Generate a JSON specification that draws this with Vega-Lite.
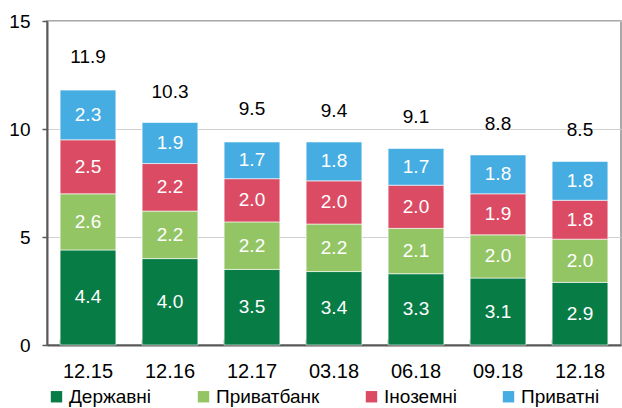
{
  "$schema": "https://vega.github.io/schema/vega-lite/v6.json",
  "width": 574,
  "height": 324,
  "autosize": "none",
  "padding": {"left": 47, "top": 21, "right": 1, "bottom": 63},
  "background": "white",
  "config": {
    "font": "Liberation Sans",
    "view": {"stroke": "#8c8c8c", "strokeWidth": 1.5}
  },
  "datasets": {
    "bars": [
      {"period": "12.15", "series": "Державні", "k": 1, "value": 4.4},
      {"period": "12.15", "series": "Приватбанк", "k": 2, "value": 2.6},
      {"period": "12.15", "series": "Іноземні", "k": 3, "value": 2.5},
      {"period": "12.15", "series": "Приватні", "k": 4, "value": 2.3},
      {"period": "12.16", "series": "Державні", "k": 1, "value": 4.0},
      {"period": "12.16", "series": "Приватбанк", "k": 2, "value": 2.2},
      {"period": "12.16", "series": "Іноземні", "k": 3, "value": 2.2},
      {"period": "12.16", "series": "Приватні", "k": 4, "value": 1.9},
      {"period": "12.17", "series": "Державні", "k": 1, "value": 3.5},
      {"period": "12.17", "series": "Приватбанк", "k": 2, "value": 2.2},
      {"period": "12.17", "series": "Іноземні", "k": 3, "value": 2.0},
      {"period": "12.17", "series": "Приватні", "k": 4, "value": 1.7},
      {"period": "03.18", "series": "Державні", "k": 1, "value": 3.4},
      {"period": "03.18", "series": "Приватбанк", "k": 2, "value": 2.2},
      {"period": "03.18", "series": "Іноземні", "k": 3, "value": 2.0},
      {"period": "03.18", "series": "Приватні", "k": 4, "value": 1.8},
      {"period": "06.18", "series": "Державні", "k": 1, "value": 3.3},
      {"period": "06.18", "series": "Приватбанк", "k": 2, "value": 2.1},
      {"period": "06.18", "series": "Іноземні", "k": 3, "value": 2.0},
      {"period": "06.18", "series": "Приватні", "k": 4, "value": 1.7},
      {"period": "09.18", "series": "Державні", "k": 1, "value": 3.1},
      {"period": "09.18", "series": "Приватбанк", "k": 2, "value": 2.0},
      {"period": "09.18", "series": "Іноземні", "k": 3, "value": 1.9},
      {"period": "09.18", "series": "Приватні", "k": 4, "value": 1.8},
      {"period": "12.18", "series": "Державні", "k": 1, "value": 2.9},
      {"period": "12.18", "series": "Приватбанк", "k": 2, "value": 2.0},
      {"period": "12.18", "series": "Іноземні", "k": 3, "value": 1.8},
      {"period": "12.18", "series": "Приватні", "k": 4, "value": 1.8}
    ],
    "totals": [
      {"period": "12.15", "total": 11.9},
      {"period": "12.16", "total": 10.3},
      {"period": "12.17", "total": 9.5},
      {"period": "03.18", "total": 9.4},
      {"period": "06.18", "total": 9.1},
      {"period": "09.18", "total": 8.8},
      {"period": "12.18", "total": 8.5}
    ]
  },
  "layer": [
    {
      "data": {"name": "bars"},
      "transform": [
        {"stack": "value", "groupby": ["period"], "sort": [{"field": "k", "order": "ascending"}], "as": ["y0", "y1"]}
      ],
      "mark": {"type": "bar", "stroke": "white", "strokeWidth": 0.6},
      "encoding": {
        "x": {
          "field": "period", "type": "nominal", "sort": null,
          "scale": {"paddingInner": 0.32, "paddingOuter": 0.16},
          "axis": {
            "title": null, "labelAngle": 0, "labelFontSize": 20, "labelColor": "black",
            "labelPadding": 22, "domainColor": "#595959", "domainWidth": 2,
            "ticks": true, "bandPosition": 0, "tickSize": -6, "tickColor": "#595959", "tickWidth": 1.5
          }
        },
        "y": {
          "field": "y1", "type": "quantitative",
          "scale": {"domain": [0, 15], "nice": false},
          "axis": {
            "title": null, "values": [0, 5, 10, 15], "labelFontSize": 19, "labelColor": "black",
            "labelPadding": 12, "tickSize": 5, "tickColor": "#595959", "tickWidth": 1.5,
            "domainColor": "#595959", "domainWidth": 2,
            "grid": true, "gridColor": "#d0d0d0", "gridWidth": 1
          }
        },
        "y2": {"field": "y0"},
        "color": {
          "field": "series", "type": "nominal",
          "scale": {
            "domain": ["Державні", "Приватбанк", "Іноземні", "Приватні"],
            "range": ["#077c45", "#94c565", "#db4b64", "#45ade2"]
          },
          "legend": {
            "title": null, "orient": "none", "direction": "horizontal",
            "legendX": 0, "legendY": 366,
            "symbolType": "square", "symbolSize": 130, "symbolStrokeWidth": 0,
            "labelFontSize": 19, "labelColor": "black", "labelOffset": 3,
            "columnPadding": 42
          }
        }
      }
    },
    {
      "data": {"name": "bars"},
      "transform": [
        {"stack": "value", "groupby": ["period"], "sort": [{"field": "k", "order": "ascending"}], "as": ["y0", "y1"]},
        {"calculate": "(datum.y0 + datum.y1) / 2", "as": "mid"}
      ],
      "mark": {"type": "text", "color": "white", "fontSize": 19, "baseline": "middle", "align": "center"},
      "encoding": {
        "x": {"field": "period", "type": "nominal", "sort": null},
        "y": {"field": "mid", "type": "quantitative"},
        "text": {"field": "value", "type": "quantitative", "format": ".1f"}
      }
    },
    {
      "data": {"name": "totals"},
      "mark": {"type": "text", "color": "black", "fontSize": 19, "baseline": "middle", "align": "center", "dy": -31},
      "encoding": {
        "x": {"field": "period", "type": "nominal", "sort": null},
        "y": {"field": "total", "type": "quantitative"},
        "text": {"field": "total", "type": "quantitative", "format": ".1f"}
      }
    }
  ]
}
